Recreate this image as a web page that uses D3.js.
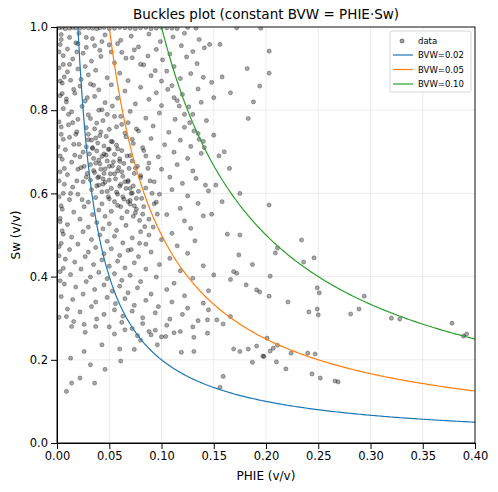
<!DOCTYPE html>
<meta charset="utf-8">
<script src="https://d3js.org/d3.v7.min.js"></script>
<style>
  body { margin: 0; background: #fff; }
  text { font-family: "DejaVu Sans", sans-serif; }
</style>
<div id="my_dataviz"></div>
<script>
// data points as [PHIE, Sw]
var points = [
  // top edge (clipped at Sw = 1)
  [0.002,0.998],[0.008,0.996],[0.015,0.999],[0.022,0.997],[0.03,0.998],[0.038,0.996],[0.045,0.999],[0.055,0.997],[0.065,0.998],[0.075,0.996],[0.085,0.999],[0.095,0.997],[0.105,0.998],[0.115,0.996],[0.125,0.999],[0.133,0.997],[0.172,0.998],[0.195,0.997],
  [0.005,0.999],[0.012,0.997],[0.018,0.998],[0.026,0.999],[0.034,0.997],[0.041,0.998],[0.05,0.996],[0.06,0.999],[0.07,0.997],[0.08,0.998],[0.09,0.996],[0.1,0.999],[0.11,0.997],
  [0.004,0.982],[0.012,0.975],[0.021,0.985],[0.034,0.972],[0.046,0.981],[0.061,0.968],[0.071,0.978],[0.088,0.983],[0.099,0.965],[0.111,0.976],[0.122,0.985],[0.136,0.97],[0.146,0.958],
  [0.003,0.958],[0.01,0.947],[0.018,0.962],[0.028,0.951],[0.041,0.944],[0.05,0.957],[0.062,0.939],[0.078,0.952],[0.095,0.946],[0.108,0.935],[0.119,0.955],[0.13,0.941],[0.141,0.95],[0.156,0.958],
  [0.006,0.931],[0.015,0.923],[0.025,0.937],[0.033,0.918],[0.042,0.929],[0.055,0.914],[0.072,0.926],[0.083,0.909],[0.101,0.921],[0.112,0.905],[0.124,0.928],[0.134,0.912],[0.182,0.9],
  [0.002,0.902],[0.01,0.892],[0.02,0.899],[0.03,0.885],[0.037,0.896],[0.048,0.878],[0.06,0.889],[0.068,0.871],[0.09,0.883],[0.105,0.894],[0.118,0.876],[0.128,0.888],[0.14,0.879],[0.148,0.867],
  [0.005,0.865],[0.013,0.872],[0.022,0.858],[0.032,0.863],[0.04,0.849],[0.052,0.861],[0.065,0.846],[0.08,0.855],[0.095,0.842],[0.11,0.859],[0.12,0.838],[0.135,0.851],[0.166,0.842],
  [0.003,0.835],[0.009,0.827],[0.017,0.841],[0.027,0.822],[0.036,0.833],[0.046,0.818],[0.058,0.829],[0.075,0.815],[0.088,0.826],[0.1,0.811],[0.115,0.823],[0.126,0.808],[0.138,0.819],[0.15,0.83],
  [0.006,0.804],[0.014,0.796],[0.024,0.809],[0.03,0.789],[0.043,0.801],[0.055,0.785],[0.07,0.797],[0.085,0.781],[0.098,0.793],[0.113,0.778],[0.13,0.79],[0.143,0.775],[0.183,0.78],
  [0.002,0.772],[0.011,0.765],[0.02,0.778],[0.028,0.758],[0.038,0.769],[0.05,0.754],[0.062,0.766],[0.078,0.75],[0.092,0.762],[0.107,0.747],[0.122,0.759],[0.135,0.744],
  [0.004,0.742],[0.012,0.735],[0.019,0.748],[0.03,0.729],[0.041,0.739],[0.053,0.724],[0.066,0.736],[0.073,0.72],[0.09,0.732],[0.103,0.717],[0.118,0.728],[0.128,0.713],[0.14,0.725],
  [0.001,0.712],[0.008,0.705],[0.016,0.718],[0.025,0.699],[0.034,0.71],[0.045,0.695],[0.058,0.707],[0.07,0.691],[0.083,0.703],[0.097,0.688],[0.112,0.699],[0.125,0.684],[0.138,0.696],[0.155,0.69],
  [0.005,0.682],[0.014,0.675],[0.022,0.688],[0.032,0.669],[0.04,0.68],[0.05,0.665],[0.06,0.677],[0.075,0.661],[0.088,0.673],[0.1,0.658],[0.115,0.669],[0.13,0.654],
  [0.003,0.652],[0.01,0.645],[0.02,0.658],[0.028,0.639],[0.036,0.65],[0.044,0.635],[0.055,0.647],[0.068,0.631],[0.08,0.643],[0.093,0.628],[0.108,0.639],[0.12,0.624],[0.133,0.636],[0.142,0.62],
  [0.007,0.622],[0.015,0.615],[0.025,0.628],[0.033,0.609],[0.04,0.62],[0.048,0.605],[0.06,0.617],[0.072,0.601],[0.085,0.613],[0.098,0.598],[0.11,0.609],[0.125,0.594],[0.145,0.606],
  [0.002,0.592],[0.012,0.585],[0.02,0.598],[0.03,0.579],[0.037,0.59],[0.043,0.575],[0.05,0.587],[0.058,0.571],[0.07,0.583],[0.083,0.568],[0.095,0.579],[0.118,0.564],[0.135,0.576],
  [0.005,0.562],[0.016,0.555],[0.026,0.568],[0.034,0.549],[0.04,0.56],[0.046,0.545],[0.052,0.557],[0.062,0.541],[0.075,0.553],[0.088,0.538],[0.105,0.549],[0.122,0.534],[0.14,0.546],
  [0.003,0.532],[0.01,0.525],[0.022,0.538],[0.03,0.519],[0.038,0.53],[0.044,0.515],[0.05,0.527],[0.057,0.511],[0.066,0.523],[0.08,0.508],[0.092,0.519],[0.11,0.504],[0.128,0.516],
  [0.006,0.502],[0.014,0.495],[0.025,0.508],[0.033,0.489],[0.041,0.5],[0.048,0.485],[0.055,0.497],[0.063,0.481],[0.072,0.493],[0.085,0.478],[0.1,0.489],[0.115,0.474],[0.132,0.486],
  [0.002,0.472],[0.012,0.465],[0.02,0.478],[0.03,0.459],[0.037,0.47],[0.045,0.455],[0.052,0.467],[0.06,0.451],[0.068,0.463],[0.078,0.448],[0.09,0.459],[0.108,0.444],[0.125,0.456],
  [0.008,0.442],[0.017,0.435],[0.027,0.448],[0.035,0.429],[0.043,0.44],[0.05,0.425],[0.058,0.437],[0.065,0.421],[0.074,0.433],[0.085,0.418],[0.098,0.429],[0.118,0.414],[0.14,0.426],
  [0.003,0.412],[0.013,0.405],[0.023,0.418],[0.032,0.399],[0.04,0.41],[0.048,0.395],[0.055,0.407],[0.062,0.391],[0.07,0.403],[0.08,0.388],[0.095,0.399],[0.112,0.384],[0.13,0.396],
  [0.007,0.382],[0.018,0.375],[0.028,0.388],[0.036,0.369],[0.045,0.38],[0.053,0.365],[0.06,0.377],[0.068,0.361],[0.077,0.373],[0.09,0.358],[0.105,0.369],[0.122,0.354],[0.145,0.366],
  [0.004,0.352],[0.015,0.345],[0.025,0.358],[0.037,0.339],[0.048,0.35],[0.056,0.335],[0.065,0.347],[0.074,0.331],[0.085,0.343],[0.097,0.328],[0.11,0.339],[0.125,0.324],[0.14,0.336],
  [0.01,0.322],[0.022,0.315],[0.033,0.328],[0.045,0.309],[0.055,0.32],[0.063,0.305],[0.072,0.317],[0.082,0.301],[0.094,0.313],[0.108,0.298],[0.12,0.309],[0.135,0.294],
  [0.002,0.302],[0.026,0.285],[0.038,0.298],[0.05,0.279],[0.062,0.29],[0.072,0.275],[0.082,0.287],[0.094,0.271],[0.105,0.283],[0.118,0.268],[0.13,0.279],
  [0.016,0.292],[0.055,0.262],[0.065,0.272],[0.077,0.258],[0.088,0.268],[0.1,0.255],[0.112,0.265],
  // dense cluster
  [0.028,0.712],[0.031,0.695],[0.035,0.684],[0.038,0.702],[0.041,0.671],[0.043,0.689],[0.046,0.659],[0.048,0.678],[0.051,0.647],[0.053,0.666],[0.056,0.635],[0.058,0.654],[0.061,0.622],[0.063,0.641],[0.066,0.612],[0.068,0.628],[0.071,0.6],[0.073,0.618],[0.076,0.588],[0.078,0.605],
  [0.03,0.742],[0.033,0.728],[0.036,0.755],[0.039,0.721],[0.042,0.748],[0.045,0.714],[0.047,0.737],[0.05,0.706],[0.052,0.725],[0.055,0.694],[0.057,0.716],[0.06,0.683],[0.062,0.703],[0.064,0.672],[0.067,0.69],[0.069,0.66],[0.072,0.678],[0.074,0.648],[0.077,0.665],[0.08,0.638],
  [0.026,0.665],[0.029,0.648],[0.032,0.632],[0.035,0.655],[0.038,0.618],[0.04,0.64],[0.043,0.604],[0.046,0.627],[0.049,0.592],[0.052,0.612],[0.055,0.58],[0.058,0.598],[0.061,0.568],[0.064,0.586],[0.067,0.556],[0.07,0.574],[0.073,0.545],[0.076,0.562],[0.079,0.535],[0.082,0.55],
  [0.015,0.77],[0.018,0.742],[0.021,0.718],[0.017,0.692],[0.023,0.662],[0.019,0.63],[0.013,0.6],[0.024,0.585],[0.011,0.79],[0.009,0.82],[0.016,0.85],[0.007,0.88],[0.012,0.91],[0.019,0.94],[0.027,0.905],[0.023,0.874],[0.035,0.86],[0.029,0.83],[0.04,0.8],[0.032,0.78],
  [0.044,0.775],[0.048,0.79],[0.053,0.81],[0.057,0.76],[0.061,0.785],[0.065,0.745],[0.068,0.77],[0.072,0.73],[0.076,0.755],[0.082,0.71],[0.085,0.69],[0.087,0.66],[0.089,0.63],[0.091,0.6],[0.093,0.575],[0.096,0.55],[0.084,0.52],[0.088,0.5],[0.079,0.48],[0.071,0.465],
  [0.004,0.76],[0.006,0.73],[0.003,0.69],[0.007,0.66],[0.002,0.63],[0.006,0.6],[0.004,0.57],[0.003,0.54],[0.005,0.51],[0.004,0.48],[0.002,0.45],[0.006,0.42],[0.003,0.39],[0.005,0.84],[0.003,0.87],[0.006,0.91],[0.002,0.94],[0.004,0.97],
  [0.02,0.96],[0.028,0.975],[0.036,0.955],[0.043,0.965],[0.052,0.94],[0.058,0.96],[0.066,0.925],[0.074,0.945],[0.08,0.91],[0.087,0.93],[0.094,0.895],[0.1,0.87],[0.106,0.85],[0.112,0.83],[0.117,0.81],[0.122,0.79],[0.127,0.77],[0.131,0.75],[0.136,0.73],[0.141,0.71],
  [0.037,0.673],[0.042,0.658],[0.047,0.692],[0.039,0.638],[0.044,0.622],[0.049,0.706],[0.054,0.676],[0.059,0.662],[0.034,0.708],[0.037,0.733],[0.045,0.648],[0.05,0.632],[0.062,0.652],[0.065,0.628],[0.07,0.612],[0.057,0.603],[0.063,0.592],[0.068,0.58],[0.074,0.57],[0.081,0.588],
  // lower left sparse points
  [0.009,0.124],[0.036,0.144],[0.014,0.144],[0.022,0.156],[0.009,0.304],[0.014,0.28],[0.027,0.266],[0.037,0.28],[0.013,0.204],[0.032,0.188],[0.046,0.177],[0.061,0.197],[0.06,0.226],[0.026,0.22],[0.043,0.236],[0.074,0.225],[0.08,0.247],[0.096,0.236],[0.09,0.26],[0.104,0.256],[0.119,0.218],[0.131,0.22],[0.131,0.254],[0.144,0.264],[0.156,0.134],[0.159,0.16],[0.166,0.393],[0.181,0.38],[0.191,0.368],[0.187,0.194],[0.198,0.208],[0.175,0.22],[0.169,0.226],[0.183,0.226],[0.191,0.233],[0.174,0.452],[0.163,0.502],[0.175,0.5],[0.187,0.429],[0.169,0.412],[0.153,0.296],[0.159,0.286],[0.166,0.304],[0.172,0.408],[0.145,0.32],[0.144,0.296],[0.15,0.404],
  [0.152,0.62],[0.158,0.58],[0.148,0.55],[0.16,0.7],[0.165,0.66],[0.15,0.74],[0.158,0.88],[0.188,0.82],[0.175,0.6],
  // right side sparse points
  [0.203,0.942],[0.203,0.889],[0.194,0.858],[0.203,0.572],[0.234,0.488],[0.236,0.435],[0.246,0.445],[0.209,0.457],[0.211,0.469],[0.204,0.401],[0.194,0.363],[0.203,0.353],[0.221,0.339],[0.241,0.315],[0.249,0.373],[0.251,0.361],[0.249,0.322],[0.25,0.308],[0.281,0.31],[0.289,0.322],[0.294,0.353],[0.32,0.3],[0.328,0.298],[0.378,0.288],[0.389,0.257],[0.392,0.262],
  [0.201,0.252],[0.197,0.209],[0.204,0.221],[0.207,0.228],[0.211,0.235],[0.21,0.195],[0.219,0.178],[0.224,0.216],[0.24,0.216],[0.247,0.214],[0.244,0.166],[0.252,0.156],[0.266,0.149],[0.269,0.147]
];
var phie = points.map(function(p) { return p[0]; });
var sw = points.map(function(p) { return p[1]; });

var bvwValues = [0.02, 0.05, 0.10];
var bvwColors = ["#1f77b4", "#ff7f0e", "#2ca02c"];
var xTicks = [0, 0.05, 0.10, 0.15, 0.20, 0.25, 0.30, 0.35, 0.40];
var yTicks = [0, 0.2, 0.4, 0.6, 0.8, 1.0];

var margin = {top: 27, right: 23, bottom: 49, left: 57},
    width = 498 - margin.left - margin.right,
    height = 492 - margin.top - margin.bottom;

var root = d3.select("#my_dataviz").append("svg")
    .attr("width", 498).attr("height", 492);
var svg = root.append("g")
    .attr("transform", "translate(" + margin.left + "," + margin.top + ")");

var x = d3.scaleLinear().domain([0, 0.4]).range([0, width]);
var y = d3.scaleLinear().domain([0, 1]).range([height, 0]);

// grid
svg.append("g").selectAll("line").data(xTicks).enter().append("line")
  .attr("x1", function(d) { return x(d); }).attr("x2", function(d) { return x(d); })
  .attr("y1", 0).attr("y2", height)
  .attr("stroke", "#b0b0b0").attr("stroke-opacity", 0.3).attr("stroke-width", 0.8);
svg.append("g").selectAll("line").data(yTicks).enter().append("line")
  .attr("y1", function(d) { return y(d); }).attr("y2", function(d) { return y(d); })
  .attr("x1", 0).attr("x2", width)
  .attr("stroke", "#b0b0b0").attr("stroke-opacity", 0.3).attr("stroke-width", 0.8);

svg.append("clipPath").attr("id", "clip").append("rect")
  .attr("width", width).attr("height", height);
var plot = svg.append("g").attr("clip-path", "url(#clip)");

// scatter
plot.selectAll("circle").data(phie).enter().append("circle")
  .attr("cx", function(d) { return x(d); })
  .attr("cy", function(d, i) { return y(sw[i]); })
  .attr("r", 2.1)
  .attr("fill", "#000").attr("fill-opacity", 0.35)
  .attr("stroke", "#000").attr("stroke-opacity", 0.45).attr("stroke-width", 0.6);

// BVW curves
var line = d3.line().x(function(d) { return x(d[0]); }).y(function(d) { return y(d[1]); });
bvwValues.forEach(function(b, k) {
  var pts = d3.range(200).map(function(i) {
    var p = b + (0.4 - b) * i / 199;
    return [p, b / p];
  });
  plot.append("path").datum(pts).attr("d", line)
    .attr("fill", "none").attr("stroke", bvwColors[k]).attr("stroke-width", 1.2);
});

// axes
svg.append("g").attr("transform", "translate(0," + height + ")")
  .call(d3.axisBottom(x).tickValues(xTicks).tickFormat(d3.format(".2f")).tickSizeOuter(0))
  .selectAll("text").style("font-size", "11.5px").attr("fill", "#000");
svg.append("g")
  .call(d3.axisLeft(y).tickValues(yTicks).tickFormat(d3.format(".1f")).tickSizeOuter(0))
  .selectAll("text").style("font-size", "11.5px").attr("fill", "#000");
svg.append("rect").attr("width", width).attr("height", height)
  .attr("fill", "none").attr("stroke", "#000").attr("stroke-width", 0.9);

// labels
root.append("text").attr("x", margin.left + width / 2).attr("y", 19)
  .attr("text-anchor", "middle").style("font-size", "13.5px")
  .text("Buckles plot (constant BVW = PHIE\u00b7Sw)");
root.append("text").attr("x", margin.left + width / 2).attr("y", 480)
  .attr("text-anchor", "middle").style("font-size", "12px").text("PHIE (v/v)");
root.append("text").attr("transform", "translate(20," + (margin.top + height / 2) + ")rotate(-90)")
  .attr("text-anchor", "middle").style("font-size", "12px").text("Sw (v/v)");

// legend
var lg = svg.append("g").attr("transform", "translate(" + (width - 85) + ",4)");
lg.append("rect").attr("width", 81).attr("height", 61).attr("rx", 2)
  .attr("fill", "#fff").attr("fill-opacity", 0.8).attr("stroke", "#ccc").attr("stroke-width", 0.8);
lg.append("circle").attr("cx", 12).attr("cy", 10).attr("r", 2)
  .attr("fill", "#000").attr("fill-opacity", 0.35).attr("stroke", "#000").attr("stroke-opacity", 0.45);
lg.append("text").attr("x", 28).attr("y", 13).style("font-size", "8.5px").text("data");
bvwValues.forEach(function(b, k) {
  var yy = 24 + k * 14.5;
  lg.append("line").attr("x1", 3).attr("x2", 23).attr("y1", yy).attr("y2", yy)
    .attr("stroke", bvwColors[k]).attr("stroke-width", 1.2);
  lg.append("text").attr("x", 28).attr("y", yy + 3).style("font-size", "8.5px")
    .text("BVW=" + b.toFixed(2));
});
</script>
